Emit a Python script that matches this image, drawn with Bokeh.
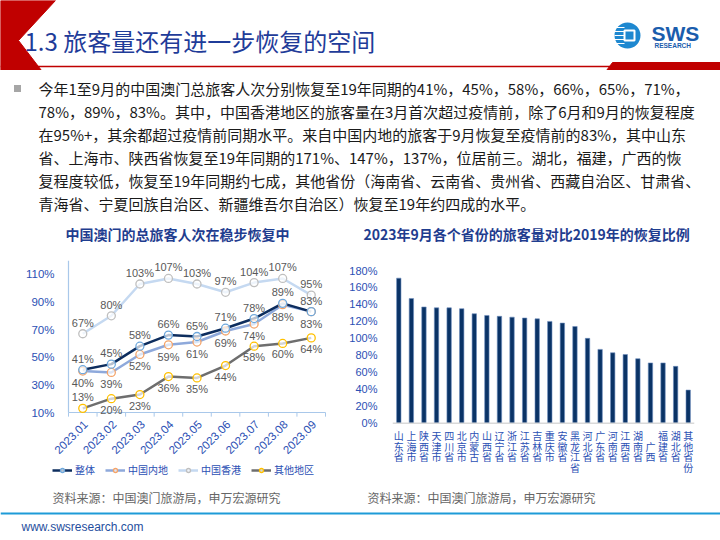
import math
from bokeh.plotting import figure
from bokeh.layouts import column, row
from bokeh.models import (Range1d, FactorRange, FixedTicker, PrintfTickFormatter,
                          Legend, LegendItem, Span)
from bokeh.core.properties import value
from bokeh.embed import file_html
from bokeh.resources import INLINE

CJK = "Noto Sans CJK SC"
LAT = "Liberation Sans"
BLUE_TXT = "#2B50B4"
TITLE_BLUE = "#1F3D8F"
AXIS_BLUE = "#A9C8EA"

# ---------------- data ----------------
months = ["2023.01", "2023.02", "2023.03", "2023.04", "2023.05",
          "2023.06", "2023.07", "2023.08", "2023.09"]
total = [41, 45, 58, 66, 65, 71, 78, 89, 83]
mainland = [40, 39, 52, 59, 61, 69, 74, 88, 83]
hongkong = [67, 80, 103, 107, 103, 97, 104, 107, 95]
others = [13, 20, 23, 36, 35, 44, 58, 60, 64]
series_names = ["整体", "中国内地", "中国香港", "其他地区"]
left_ticks = [10, 30, 50, 70, 90, 110]

provinces = ["山东省", "上海市", "陕西省", "天津市", "四川省", "北京市", "内蒙古",
             "山西省", "辽宁省", "浙江省", "江苏省", "吉林省", "重庆市", "安徽省",
             "黑龙江省", "河北省", "广东省", "河南省", "江西省", "湖南省", "广西",
             "福建省", "湖北省", "其他省份"]
recovery = [171, 147, 137, 136, 136, 135, 129, 127, 126, 125, 124, 123,
            120, 118, 114, 100, 87, 83, 81, 76, 71, 71, 67, 39]
right_ticks = [0, 20, 40, 60, 80, 100, 120, 140, 160, 180]

page_title = "1.3 旅客量还有进一步恢复的空间"
body_lines = [
    "今年1至9月的中国澳门总旅客人次分别恢复至19年同期的41%，45%，58%，66%，65%，71%，",
    "78%，89%，83%。其中，中国香港地区的旅客量在3月首次超过疫情前，除了6月和9月的恢复程度",
    "在95%+，其余都超过疫情前同期水平。来自中国内地的旅客于9月恢复至疫情前的83%，其中山东",
    "省、上海市、陕西省恢复至19年同期的171%、147%，137%，位居前三。湖北，福建，广西的恢",
    "复程度较低，恢复至19年同期约七成，其他省份（海南省、云南省、贵州省、西藏自治区、甘肃省、",
    "青海省、宁夏回族自治区、新疆维吾尔自治区）恢复至19年约四成的水平。",
]
left_title = "中国澳门的总旅客人次在稳步恢复中"
right_title = "2023年9月各个省份的旅客量对比2019年的恢复比例"
source_text = "资料来源：中国澳门旅游局，申万宏源研究"
url_text = "www.swsresearch.com"


def canvas(top, bottom):
    p = figure(frame_width=720, frame_height=bottom - top,
               x_range=Range1d(0, 720), y_range=Range1d(bottom, top),
               x_axis_location=None, y_axis_location=None,
               output_backend="svg", toolbar_location=None, min_border=0)
    p.grid.visible = False
    p.outline_line_color = None
    return p


# ---------------- header ----------------
hdr = canvas(0, 70)
hdr.patch([0, 55, 18, 41, 0], [0, 0, 40, 70, 70], color="#C00000")
hdr.segment(x0=[0], y0=[66], x1=[720], y1=[66], line_color="#C00000", line_width=1.5)
hdr.patch([612, 720, 720, 606], [62, 62, 70, 70], color="#C00000")
hdr.text(x=[24], y=[40], text=[page_title], text_font=value(CJK),
         text_font_size="24px", text_color="#1F3C99", text_baseline="middle")
# logo
hdr.circle(x=[627], y=[35], radius=13, fill_color="#1E88D0", line_color=None)
hdr.segment(x0=[614] * 5, y0=[27, 31, 35, 39, 43], x1=[624] * 5, y1=[27, 31, 35, 39, 43],
            line_color="white", line_width=1.2)
hdr.rect(x=[629], y=[35], width=10, height=10, fill_color="#1E88D0",
         line_color="white", line_width=2)
hdr.text(x=[651], y=[33], text=["SWS"], text_font=value(LAT), text_font_style="bold",
         text_font_size="21px", text_color="#1A5DAD", text_baseline="middle")
hdr.text(x=[654], y=[45], text=["RESEARCH"], text_font=value(LAT), text_font_style="bold",
         text_font_size="6.5px", text_color="#1A5DAD", text_baseline="middle")

# ---------------- body ----------------
body = canvas(70, 245)
body.rect(x=[17], y=[88], width=7, height=7, fill_color="#A6A6A6", line_color=None)
body.text(x=[38] * len(body_lines), y=[88 + i * 23 for i in range(len(body_lines))],
          text=body_lines, text_font=value(CJK), text_font_size="15px",
          text_color="#1A1A1A", text_baseline="middle")
body.text(x=[177], y=[233], text=[left_title], text_font=value(CJK), text_font_style="bold",
          text_font_size="14px", text_color=TITLE_BLUE, text_align="center",
          text_baseline="middle")
body.text(x=[363], y=[233], text=[right_title], text_font=value(CJK), text_font_style="bold",
          text_font_size="14px", text_color=TITLE_BLUE, text_baseline="middle")

# ---------------- left chart ----------------
n_m = len(months)
xm = [i + 0.5 for i in range(n_m)]
pl = figure(x_range=Range1d(-0.7, n_m + 0.7), y_range=Range1d(-39.2, 120),
            frame_width=297, frame_height=220,
            min_border_left=48, min_border_right=0, min_border_top=15, min_border_bottom=2,
            x_axis_location=None,
            output_backend="svg", toolbar_location=None)
pl.grid.visible = False
pl.outline_line_color = None
pl.yaxis.ticker = FixedTicker(ticks=left_ticks)
pl.yaxis.formatter = PrintfTickFormatter(format="%d%%")
pl.yaxis.axis_line_color = None
pl.yaxis.major_tick_line_color = None
pl.yaxis.minor_tick_line_color = None
pl.yaxis.major_label_text_color = BLUE_TXT
pl.yaxis.major_label_text_font = LAT
pl.yaxis.major_label_text_font_size = "11.5px"
pl.yaxis.major_label_standoff = -12
# axis lines and category ticks
pl.segment(x0=[0], y0=[left_ticks[0]], x1=[0], y1=[120], line_color=AXIS_BLUE, line_width=1.2)
pl.segment(x0=[0], y0=[left_ticks[0]], x1=[n_m], y1=[left_ticks[0]],
           line_color=AXIS_BLUE, line_width=1.2)
pl.segment(x0=list(range(n_m + 1)), y0=[left_ticks[0]] * (n_m + 1),
           x1=list(range(n_m + 1)), y1=[left_ticks[0] - 3] * (n_m + 1),
           line_color=AXIS_BLUE, line_width=1)
pl.text(x=xm, y=[left_ticks[0]] * n_m, text=months, angle=math.pi / 4,
        text_align="right", text_baseline="middle", x_offset=3, y_offset=10,
        text_font=value(LAT), text_font_size="11.5px", text_color=BLUE_TXT)

# (values, line colour, marker colour, label offset, legend index)
series = [
    (hongkong, "#C5D9F1", "#BFBFBF", -11, 2),
    (others, "#6E6E6E", "#FFC000", 11, 3),
    (mainland, "#8EA9DB", "#F4A46A", 12, 1),
    (total, "#0D2D5E", "#6FA8DC", -11, 0),
]
line_r, mark_r = {}, {}
for vals, lc, mc, off, idx in series:
    line_r[idx] = pl.line(x=xm, y=vals, line_color=lc, line_width=2.5)
for vals, lc, mc, off, idx in series:
    mark_r[idx] = pl.scatter(x=xm, y=vals, marker="circle", size=8, fill_color="white",
                             fill_alpha=0.7, line_color=mc, line_width=1.3)
for vals, lc, mc, off, idx in series:
    offs = [off] * len(vals)
    if idx == 3:
        offs[0] = -11
    pl.text(x=xm, y=vals, text=[f"{v}%" for v in vals], y_offset=offs,
            text_font=value(LAT), text_font_size="11px", text_color="#595959",
            text_align="center", text_baseline="middle")

legend = Legend(items=[LegendItem(label=series_names[i], renderers=[line_r[i], mark_r[i]])
                       for i in range(4)],
                orientation="horizontal", location=(4, 3),
                border_line_color=None, background_fill_alpha=0,
                label_text_font=CJK, label_text_font_size="10px",
                label_text_color=BLUE_TXT, glyph_width=20, glyph_height=10,
                spacing=10, padding=0, margin=0, label_standoff=3)
pl.add_layout(legend, "center")

# ---------------- right chart ----------------
pr = figure(x_range=FactorRange(factors=provinces), y_range=Range1d(-67.6, 191.8),
            frame_width=302, frame_height=220,
            min_border_left=47, min_border_right=26, min_border_top=15, min_border_bottom=2,
            x_axis_location=None,
            output_backend="svg", toolbar_location=None)
pr.grid.visible = False
pr.outline_line_color = None
pr.yaxis.ticker = FixedTicker(ticks=right_ticks)
pr.yaxis.formatter = PrintfTickFormatter(format="%d%%")
pr.yaxis.axis_line_color = None
pr.yaxis.major_tick_line_color = None
pr.yaxis.minor_tick_line_color = None
pr.yaxis.major_label_text_color = BLUE_TXT
pr.yaxis.major_label_text_font = LAT
pr.yaxis.major_label_text_font_size = "11px"
pr.yaxis.major_label_standoff = 9
pr.add_layout(Span(location=0, dimension="width", line_color="#D9D9D9", line_width=1.5))
pr.vbar(x=provinces, top=recovery, width=0.35, fill_color="#0A3366",
        line_color="#6F8FC0", line_width=0.6)


# stacked category labels: one text row per character (short names sit lower)
def char_rows(name):
    chars = list(name)
    return [""] * max(0, 3 - len(chars)) + chars


n_rows = max(len(char_rows(n)) for n in provinces)
for k in range(n_rows):
    pr.text(x=provinces, y=[0] * len(provinces),
            text=[(char_rows(n)[k] if k < len(char_rows(n)) else "") for n in provinces],
            y_offset=5 + 10.5 * k, text_font=value(CJK), text_font_size="10px",
            text_color=BLUE_TXT, text_align="center", text_baseline="top")

# ---------------- footer ----------------
ftr = canvas(482, 540)
ftr.text(x=[52, 367], y=[497, 497], text=[source_text, source_text], text_font=value(CJK),
         text_font_size="12px", text_color="#666666", text_baseline="middle")
ftr.segment(x0=[0], y0=[513], x1=[720], y1=[513], line_color="#1E9BD8", line_width=2)
ftr.text(x=[21], y=[526], text=[url_text], text_font=value(LAT), text_font_size="12px",
         text_color="#1F4E9E", text_baseline="middle")

layout = column(hdr, body, row(pl, pr), ftr)
open("out.html", "w").write(file_html(layout, INLINE))
